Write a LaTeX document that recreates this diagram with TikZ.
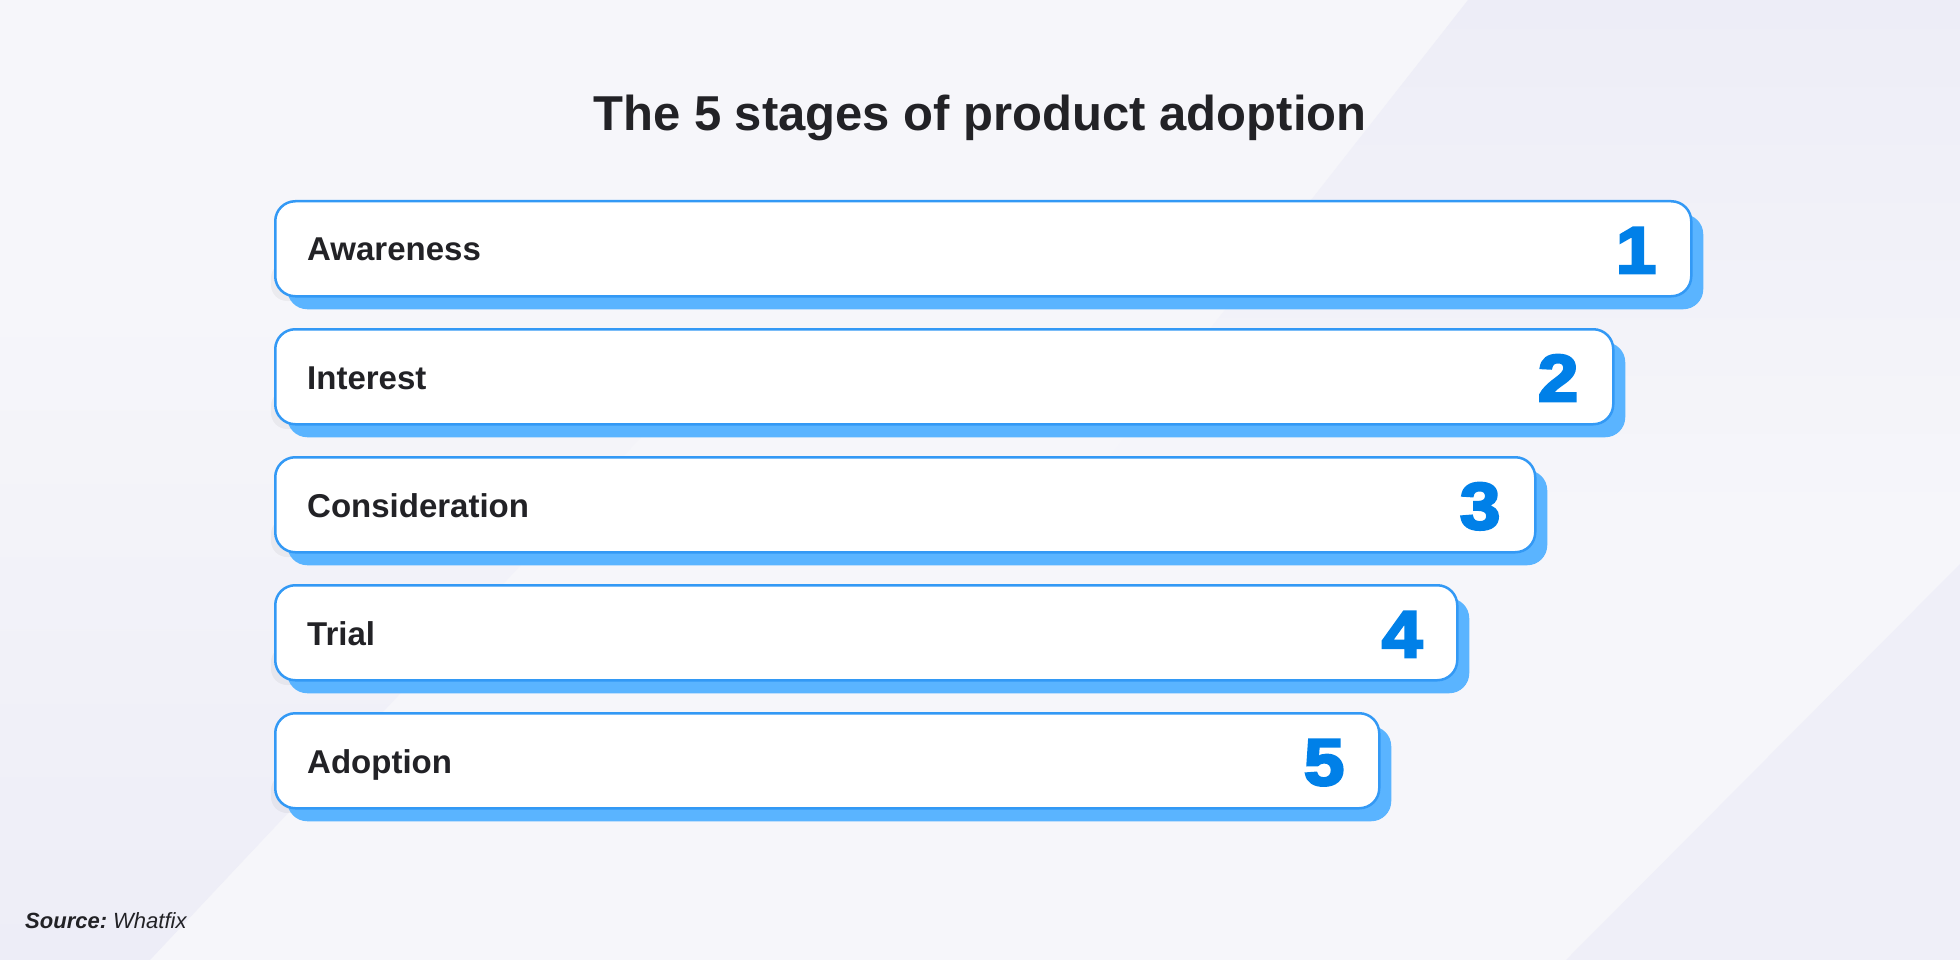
\documentclass[tikz,border=0pt]{standalone}
\usepackage{fontspec}
\setmainfont{Liberation Sans}
\newfontfamily\digitfont{Liberation Sans}[BoldFeatures={FakeBold=4,FakeStretch=1.1}]
\usetikzlibrary{shadows,calc}
\definecolor{bgA}{HTML}{F6F6FA}
\definecolor{bgD}{HTML}{EDEDF7}
\definecolor{boxline}{HTML}{3399F5}
\definecolor{boxshadow}{HTML}{5AB4FF}
\definecolor{digitblue}{HTML}{0080E8}
\definecolor{inktext}{HTML}{222226}
\begin{document}
\begin{tikzpicture}[x=1pt,y=-1pt,
  stagebox/.style={draw=boxline, line width=2.5pt, fill=white, rounded corners=20pt,
    rectangle, minimum height=95pt, inner sep=0pt, anchor=north west,
    copy shadow={shadow xshift=12pt, shadow yshift=-13pt, fill=boxshadow, draw=none}},
  greyshade/.style={fill=black, opacity=0.045, rounded corners=16pt},
  stagelabel/.style={font=\bfseries\fontsize{33}{36}\selectfont, text=inktext, anchor=base west, inner sep=0pt},
  stagenum/.style={font=\digitfont\bfseries\fontsize{66}{70}\selectfont, text=digitblue, anchor=base east, inner sep=0pt},
  titletext/.style={font=\bfseries\fontsize{49}{54}\selectfont, text=inktext, anchor=base, inner sep=0pt},
  sourcetext/.style={font=\fontsize{22}{24}\selectfont, text=inktext, anchor=base west, inner sep=0pt}]
\useasboundingbox (0,0) rectangle (1960,960);
% background
\fill[bgA] (0,0) rectangle (1960,960);
\shade[top color=bgD, bottom color=bgA] (1468,0) -- (1960,0) -- (1960,520) -- (1060,520) -- cycle;
\shade[bottom color=bgD, top color=bgA] (0,960) -- (150,960) -- (770,300) -- (0,300) -- cycle;
\fill[bgD!80!bgA] (1960,564) -- (1960,960) -- (1566,960) -- cycle;
% title
\node[titletext] (title) at (980,131) {The 5 stages of product adoption};
% stages
\foreach \i/\txt/\r in {1/Awareness/1690, 2/Interest/1612, 3/Consideration/1534, 4/Trial/1456, 5/Adoption/1378}{
  \pgfmathsetmacro{\top}{200+(\i-1)*128}
  \fill[greyshade] (271,\top+62) rectangle (305,\top+101);
  \node[stagebox, minimum width={\r-274}] (b\i) at (274,\top) {};
  \node[stagelabel] (l\i) at ($(b\i.north west)+(33,61)$) {\txt};
  \node[stagenum] (n\i) at ($(b\i.north east)+(-36,73)$) {\i};
}
% source
\node[sourcetext] (src) at (25,928) {\bfseries\itshape Source:\mdseries\ Whatfix};
\end{tikzpicture}
\end{document}
